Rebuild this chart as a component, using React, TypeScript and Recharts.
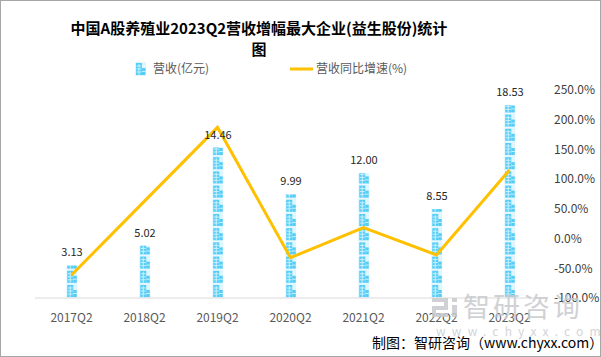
import React from 'react';
import { ComposedChart, Bar, Line, XAxis, YAxis, LabelList } from 'recharts';

const quarters = ['2017Q2', '2018Q2', '2019Q2', '2020Q2', '2021Q2', '2022Q2', '2023Q2'];
const revenue = [3.13, 5.02, 14.46, 9.99, 12.0, 8.55, 18.53];
const growth = [-61.3, 63.0, 187.2, -32.2, 18.3, -27.6, 115.4];
const growthTicks = [-100, -50, 0, 50, 100, 150, 200, 250];

const data = quarters.map((q, i) => ({ name: q, revenue: revenue[i], growth: growth[i] }));

const FONT = '"Noto Sans CJK SC", "Noto Sans", sans-serif';
const GOLD = '#FFC000';

// one little building of the pictograph column
const Building = ({ x, y }: { x: number; y: number }) => (
  <g>
    <rect x={x - 1} y={y - 1} width={11} height={14} fill="#dff6fe" />
    <rect x={x} y={y} width={6} height={12} fill="#55cdf6" />
    <rect x={x + 6} y={y + 5} width={3.5} height={7} fill="#55cdf6" />
    <path
      d={`M${x + 0.5} ${y + 3}H${x + 5.5}M${x + 0.5} ${y + 6}H${x + 5.5}M${x + 0.5} ${y + 9}H${x + 5.5}M${x + 3} ${y + 1}V${y + 12}M${x + 6} ${y + 8.5}H${x + 9.5}`}
      stroke="#c9f0fd"
      strokeWidth={1}
    />
  </g>
);

const PictoBar = (props: any) => {
  const { x, y, width, height, index } = props;
  if (!height || height <= 0) return null;
  const cx = x + width / 2;
  const bottom = y + height;
  const step = 14.2;
  const n = Math.ceil(height / step);
  const id = `picto-clip-${index}`;
  return (
    <g>
      <defs>
        <clipPath id={id}>
          <rect x={x - 6} y={y} width={width + 12} height={height} />
        </clipPath>
      </defs>
      <g clipPath={`url(#${id})`}>
        {Array.from({ length: n }, (_, k) => (
          <Building key={k} x={cx - 4.75} y={bottom - 13 - k * step} />
        ))}
      </g>
    </g>
  );
};

const App: React.FC = () => {
  return (
    <div style={{ position: 'relative', width: 601, height: 357, background: '#fff', fontFamily: FONT }}>
      <style>{'body{margin:0}'}</style>

      <div
        style={{
          position: 'absolute', left: 0, width: 518, top: 17, textAlign: 'center',
          fontSize: 15, fontWeight: 700, lineHeight: '21px', color: '#000',
        }}
      >
        中国A股养殖业2023Q2营收增幅最大企业(益生股份)统计
        <br />图
      </div>

      {/* legend */}
      <svg style={{ position: 'absolute', left: 0, top: 0 }} width={601} height={80}>
        <Building x={136} y={63} />
        <text x={153} y={73} fontSize={12} fill="#595959" fontFamily={FONT}>营收(亿元)</text>
        <line x1={290} y1={69} x2={313} y2={69} stroke={GOLD} strokeWidth={3} />
        <text x={316} y={73} fontSize={12} fill="#595959" fontFamily={FONT}>营收同比增速(%)</text>
      </svg>

      <ComposedChart
        width={601}
        height={357}
        data={data}
        margin={{ top: 90, right: 6, left: 35, bottom: 29 }}
        style={{ position: 'absolute', left: 0, top: 0 }}
      >
        <XAxis
          dataKey="name"
          height={30}
          axisLine={{ stroke: '#d9d9d9' }}
          tickLine={false}
          tickMargin={9}
          tick={{ fill: '#595959', fontSize: 12, fontFamily: FONT }}
        />
        <YAxis yAxisId="left" domain={[0, 20]} hide />
        <YAxis
          yAxisId="right"
          orientation="right"
          domain={[-100, 250]}
          ticks={growthTicks}
          width={49}
          axisLine={false}
          tickLine={false}
          tickMargin={2}
          tickFormatter={(v: number) => `${v.toFixed(1)}%`}
          tick={{ fill: '#404040', fontSize: 12, fontFamily: FONT }}
        />
        <Bar yAxisId="left" dataKey="revenue" barSize={10} shape={PictoBar} isAnimationActive={false}>
          <LabelList
            dataKey="revenue"
            position="top"
            offset={9}
            formatter={(v: any) => Number(v).toFixed(2)}
            style={{ fill: '#262626', fontSize: 11, fontFamily: FONT }}
          />
        </Bar>
        <Line
          yAxisId="right"
          type="linear"
          dataKey="growth"
          stroke={GOLD}
          strokeWidth={3}
          dot={false}
          activeDot={false}
          isAnimationActive={false}
        />
      </ComposedChart>

      {/* watermark */}
      <svg style={{ position: 'absolute', left: 0, top: 0, pointerEvents: 'none' }} width={601} height={357}>
        <g fill="#c8cacd" opacity={0.85}>
          <rect x={432} y={298} width={16} height={4} />
          <rect x={444} y={298} width={4} height={10} />
          <rect x={432} y={306} width={16} height={4} />
          <rect x={432} y={306} width={4} height={11} />
          <rect x={432} y={313} width={16} height={4} />
          <rect x={452} y={298} width={5} height={4} />
          <rect x={452} y={305} width={5} height={12} />
        </g>
        <text x={463} y={317} fontSize={27} fill="#c8cacd" opacity={0.85} fontFamily={FONT} letterSpacing={3}>智研咨询</text>
        <text x={436} y={336} fontSize={12} fill="#d3d5d8" fontFamily={FONT} letterSpacing={6.2}>www.chyxx.com</text>
        <text x={372} y={348} fontSize={14} fill="#000" fontFamily={FONT}>制图：智研咨询（www.chyxx.com）</text>
      </svg>

      <div style={{ position: 'absolute', inset: 0, border: '1px solid #a6a6a6', pointerEvents: 'none' }} />
    </div>
  );
};

export default App;
